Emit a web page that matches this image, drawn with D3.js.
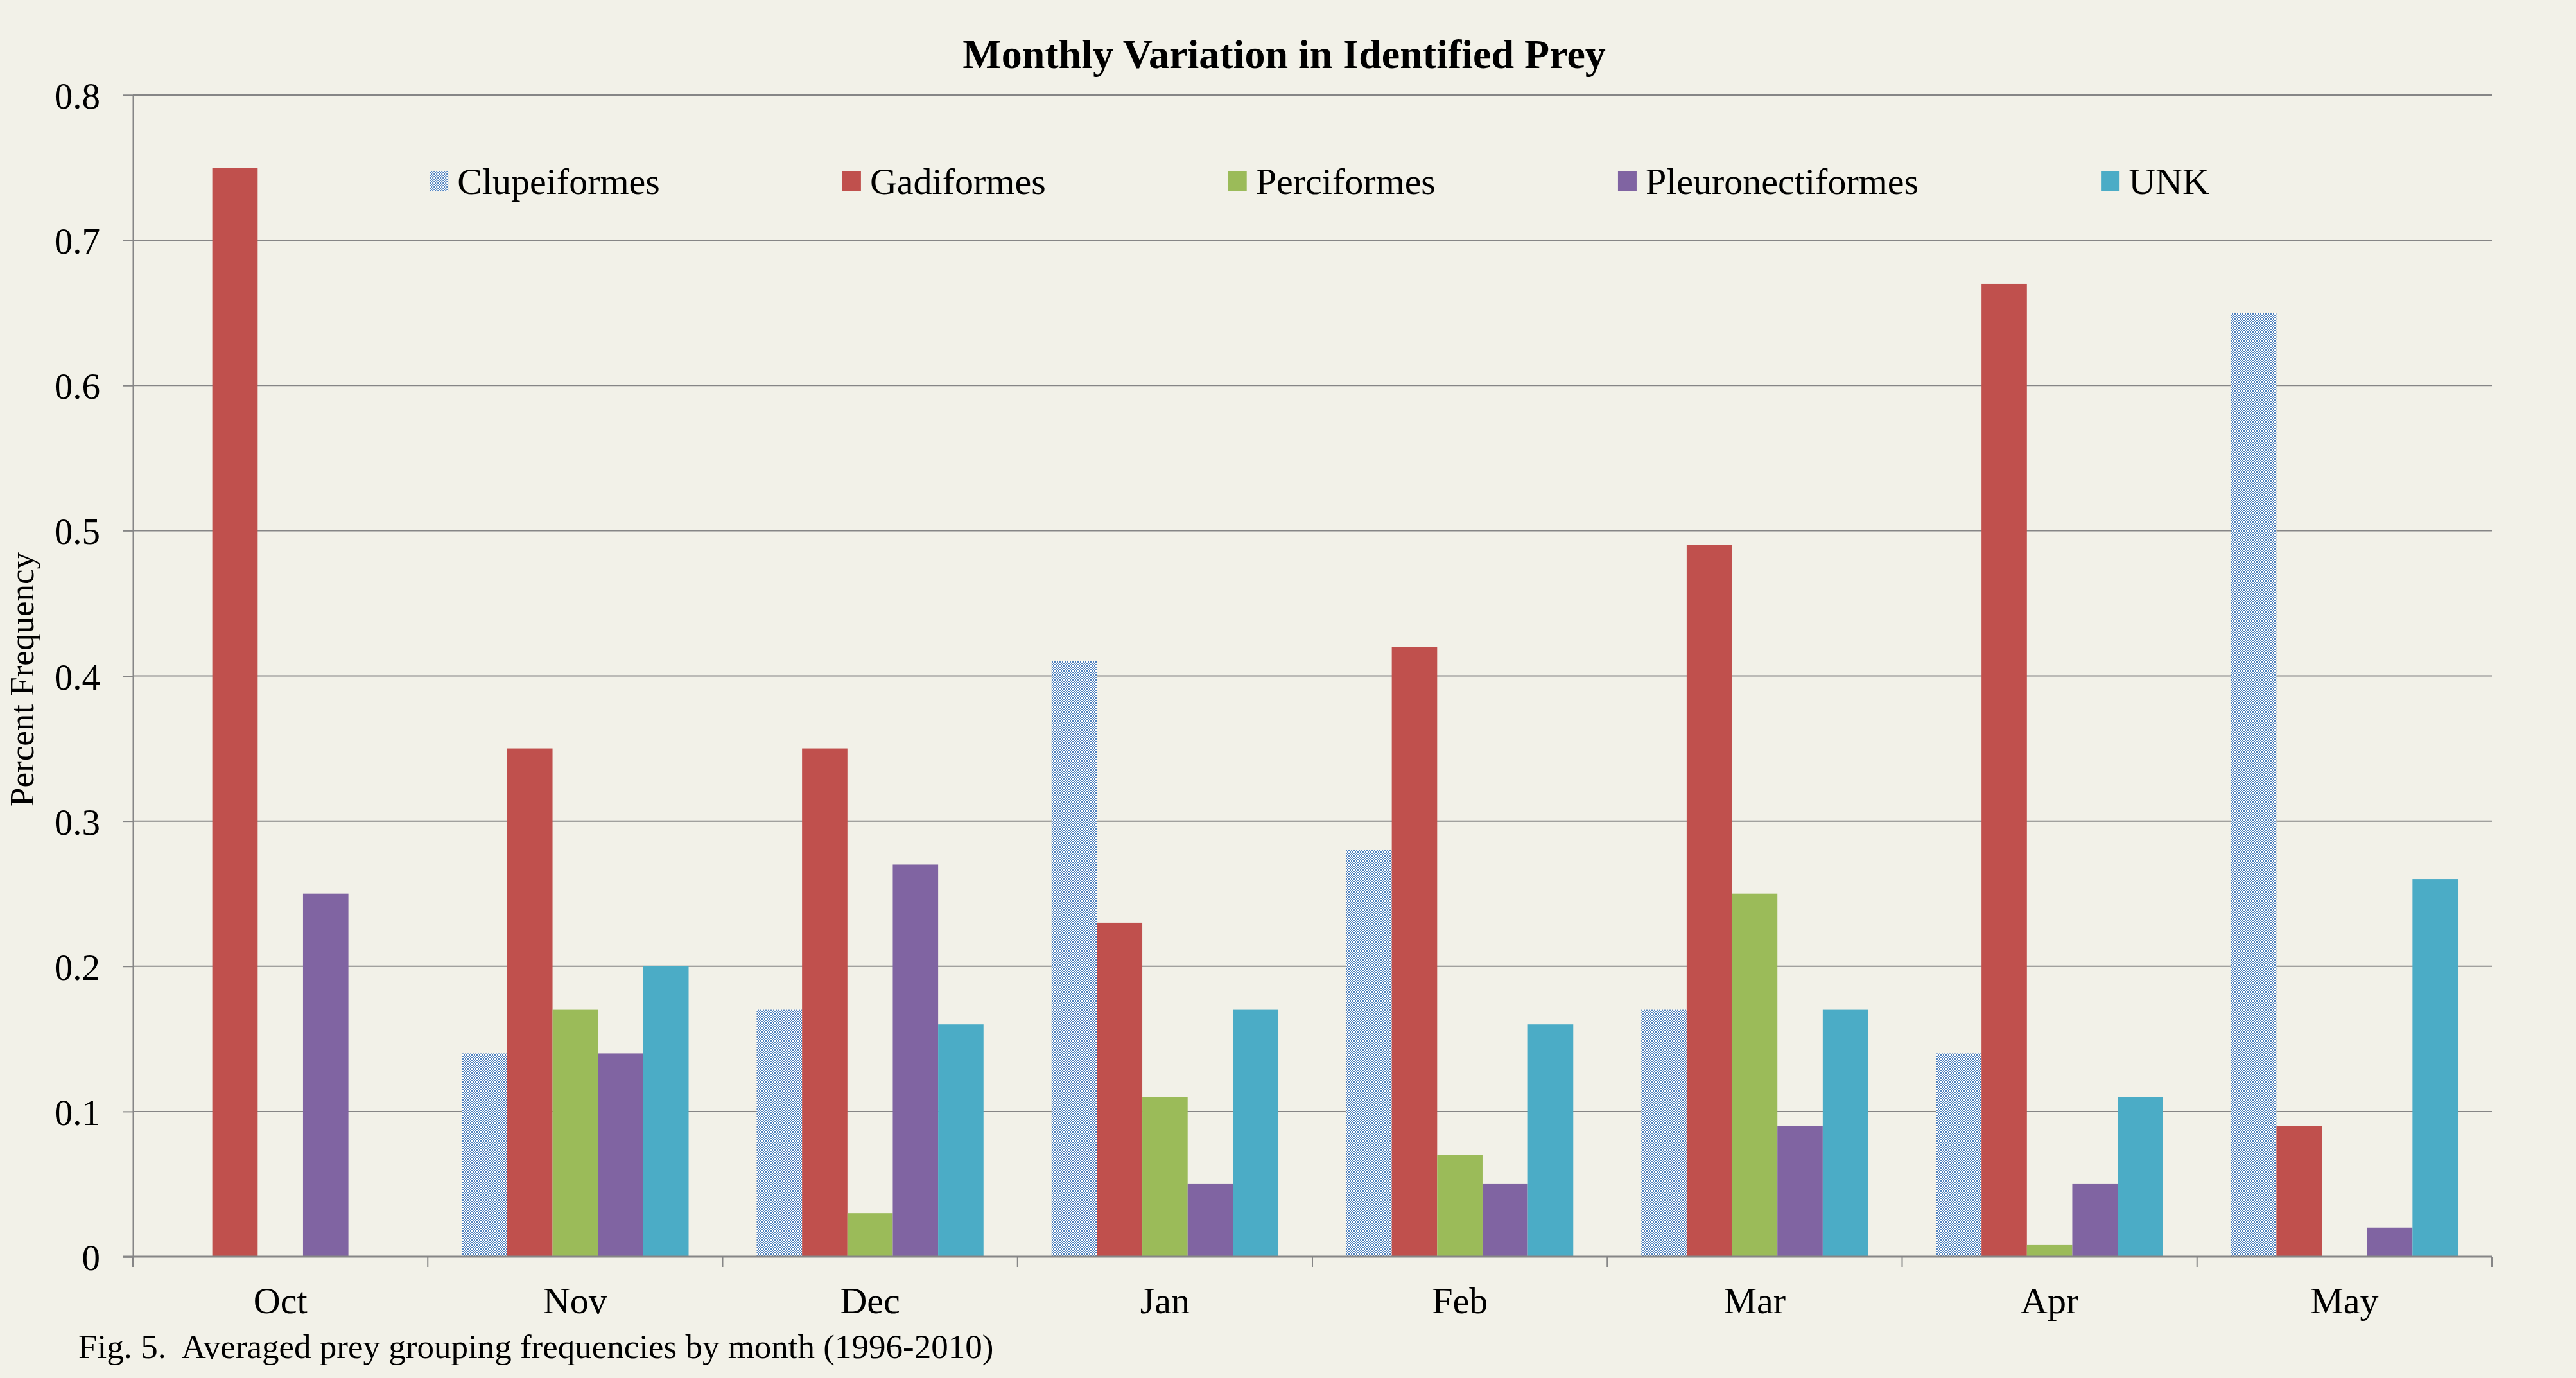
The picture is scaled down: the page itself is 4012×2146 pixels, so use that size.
<!DOCTYPE html>
<html>
<head>
<meta charset="utf-8">
<script src="https://cdn.jsdelivr.net/npm/d3@7"></script>
<style>
    body { margin: 0; background: #F2F1E8; }
    svg { display: block; font-family: "Liberation Serif", "Times New Roman", serif; }
</style>
</head>
<body>
<svg id="chart" width="4012" height="2146"></svg>
<script>
var months = ["Oct", "Nov", "Dec", "Jan", "Feb", "Mar", "Apr", "May"];
var groups = ["Clupeiformes", "Gadiformes", "Perciformes", "Pleuronectiformes", "UNK"];

var clupeiformes      = [0,    0.14, 0.17, 0.41, 0.28, 0.17, 0.14,  0.65];
var gadiformes        = [0.75, 0.35, 0.35, 0.23, 0.42, 0.49, 0.67,  0.09];
var perciformes       = [0,    0.17, 0.03, 0.11, 0.07, 0.25, 0.008, 0];
var pleuronectiformes = [0.25, 0.14, 0.27, 0.05, 0.05, 0.09, 0.05,  0.02];
var unk               = [0,    0.20, 0.16, 0.17, 0.16, 0.17, 0.11,  0.26];

var yTicks = [0, 0.1, 0.2, 0.3, 0.4, 0.5, 0.6, 0.7, 0.8];

var series = [clupeiformes, gadiformes, perciformes, pleuronectiformes, unk];
var colors = ["url(#clupPattern)", "#C0504D", "#9BBB59", "#8064A2", "#4BACC6"];

var svg = d3.select("#chart"),
    width = +svg.attr("width"),
    height = +svg.attr("height");

// note: "top" is taken by window.top, so plot edges get their own names
var plotLeft = 207, plotRight = 3881, plotTop = 148, plotBottom = 1957;

svg.append("rect")
    .attr("width", width)
    .attr("height", height)
    .attr("fill", "#F2F1E8");

// checker pattern for the Clupeiformes bars
var pat = svg.append("defs").append("pattern")
    .attr("id", "clupPattern")
    .attr("patternUnits", "userSpaceOnUse")
    .attr("width", 4)
    .attr("height", 4);
pat.append("rect").attr("width", 4).attr("height", 4).attr("fill", "#FFFFFF");
pat.append("rect").attr("width", 2).attr("height", 2).attr("fill", "#4F81BD");
pat.append("rect").attr("x", 2).attr("y", 2).attr("width", 2).attr("height", 2).attr("fill", "#4F81BD");

var x = d3.scaleBand().domain(months).range([plotLeft, plotRight]).padding(0);
// gap width 150% like the spreadsheet default
var xs = d3.scaleBand().domain(d3.range(groups.length)).range([0, x.bandwidth()])
    .paddingInner(0).paddingOuter(0.75);
var y = d3.scaleLinear().domain([0, 0.8]).range([plotBottom, plotTop]);

// gridlines
svg.append("g")
    .selectAll("line")
    .data(yTicks.slice(1))
    .enter().append("line")
    .attr("x1", plotLeft)
    .attr("x2", plotRight)
    .attr("y1", function(d) { return y(d); })
    .attr("y2", function(d) { return y(d); })
    .attr("stroke", "#868686")
    .attr("stroke-width", 2);

// bars
var rows = [];
series.forEach(function(s, si) {
    s.forEach(function(v, mi) {
        rows.push({month: months[mi], group: si, value: v});
    });
});

svg.append("g")
    .selectAll("rect")
    .data(rows)
    .enter().append("rect")
    .attr("x", function(d) { return x(d.month) + xs(d.group); })
    .attr("y", function(d) { return y(d.value); })
    .attr("width", xs.bandwidth())
    .attr("height", function(d) { return y(0) - y(d.value); })
    .attr("fill", function(d) { return colors[d.group]; });

// y axis
var yAxis = svg.append("g")
    .attr("transform", "translate(" + plotLeft + ",0)")
    .call(d3.axisLeft(y).tickValues(yTicks).tickSize(16).tickPadding(35)
        .tickFormat(function(d) { return d === 0 ? "0" : d3.format(".1f")(d); }));
yAxis.select(".domain").attr("stroke", "#868686").attr("stroke-width", 2);
yAxis.selectAll(".tick line").attr("stroke", "#868686").attr("stroke-width", 2);
yAxis.selectAll("text")
    .attr("font-family", "Liberation Serif")
    .attr("font-size", 57)
    .attr("fill", "#000")
    .attr("dy", "0.36em");

// x axis line + boundary ticks
svg.append("line")
    .attr("x1", plotLeft - 16)
    .attr("x2", plotRight)
    .attr("y1", plotBottom)
    .attr("y2", plotBottom)
    .attr("stroke", "#868686")
    .attr("stroke-width", 3);

svg.append("g")
    .selectAll("line")
    .data(months.concat(["end"]))
    .enter().append("line")
    .attr("x1", function(d, i) { return plotLeft + i * x.step(); })
    .attr("x2", function(d, i) { return plotLeft + i * x.step(); })
    .attr("y1", plotBottom)
    .attr("y2", plotBottom + 16)
    .attr("stroke", "#868686")
    .attr("stroke-width", 2);

svg.append("g")
    .selectAll("text")
    .data(months)
    .enter().append("text")
    .attr("x", function(d) { return x(d) + x.bandwidth() / 2; })
    .attr("y", 2045)
    .attr("text-anchor", "middle")
    .attr("font-size", 58)
    .text(function(d) { return d; });

// title
svg.append("text")
    .attr("x", 2000)
    .attr("y", 106)
    .attr("text-anchor", "middle")
    .attr("font-size", 64)
    .attr("font-weight", "bold")
    .text("Monthly Variation in Identified Prey");

// y axis title
svg.append("text")
    .attr("transform", "translate(52,1058) rotate(-90)")
    .attr("text-anchor", "middle")
    .attr("font-size", 53)
    .text("Percent Frequency");

// caption
svg.append("text")
    .attr("x", 122)
    .attr("y", 2115)
    .attr("font-size", 53)
    .style("white-space", "pre")
    .text("Fig. 5.  Averaged prey grouping frequencies by month (1996-2010)");

// legend
var legend = svg.append("g");
var items = legend.selectAll("g")
    .data(groups)
    .enter().append("g");
items.append("rect")
    .attr("y", 267)
    .attr("width", 29)
    .attr("height", 30)
    .attr("fill", function(d, i) { return colors[i]; });
items.append("text")
    .attr("x", 43)
    .attr("y", 302)
    .attr("font-size", 58)
    .text(function(d) { return d; });

var pos = 0, offsets = [];
items.each(function() {
    offsets.push(pos);
    pos += 43 + this.querySelector("text").getComputedTextLength() + 284;
});
var totalW = pos - 284;
var startX = 2055 - totalW / 2;
items.attr("transform", function(d, i) { return "translate(" + (startX + offsets[i]) + ",0)"; });
</script>
</body>
</html>
